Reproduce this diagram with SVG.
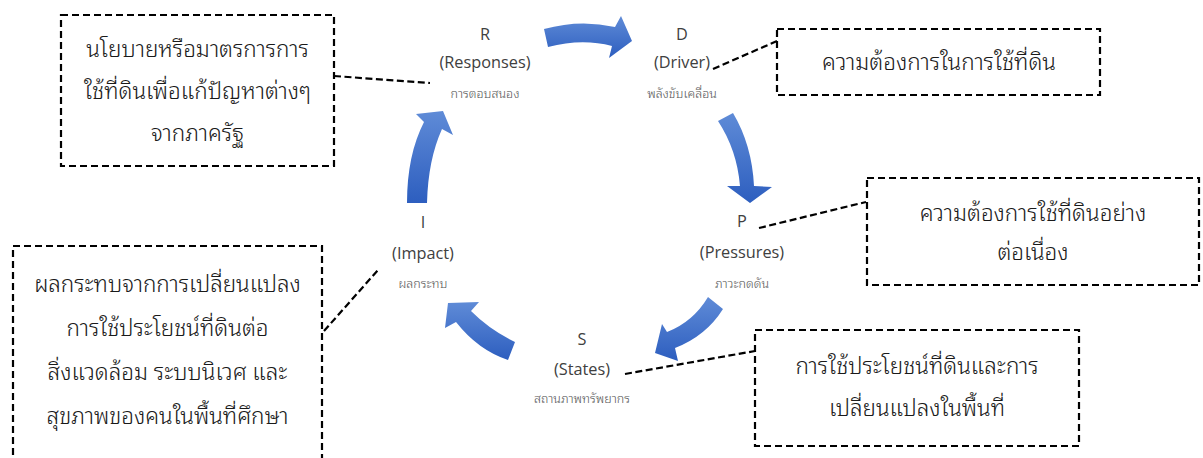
<svg xmlns="http://www.w3.org/2000/svg" width="1203" height="458" viewBox="0 0 1203 458">
<defs>
<linearGradient id="blue" x1="0" y1="0" x2="0" y2="1">
<stop offset="0" stop-color="#5f8bd7"/>
<stop offset="1" stop-color="#2d5ebf"/>
</linearGradient>
<style>
.arr{fill:url(#blue);}
.box{fill:#ffffff;stroke:#000;stroke-width:2.2;stroke-dasharray:7 4;}
.con{fill:none;stroke:#000;stroke-width:2.2;stroke-dasharray:7 3.5;}
.lbl{font-family:"Open Sans","Noto Sans","Liberation Sans",sans-serif;font-size:16.3px;fill:#404040;text-anchor:middle;}
.sub{font-family:"Noto Sans Thai Looped","Noto Sans Thai","Loma","Garuda","Noto Sans",sans-serif;font-size:12.5px;font-weight:300;fill:#555555;text-anchor:middle;}
.bt{font-family:"Noto Sans Thai Looped","Noto Serif Thai","Noto Sans Thai","Loma","Garuda","Noto Sans",sans-serif;font-size:22.5px;font-weight:300;fill:#1a1a1a;text-anchor:middle;}
</style>
</defs>
<rect width="1203" height="458" fill="#ffffff"/>

<g id="arrows">
<path class="arr" d="M544,29 Q580,19 615,27 L621,16 L632,41 L609,58 L612,46 Q582,38 548,47 Z"/>
<path class="arr" d="M718,121 L733,113 Q752,145 754,186 L772,187 L750,203 L727,186 L740,186 Q737,150 718,121 Z"/>
<path class="arr" d="M708,297 L723,309 Q706,336 675,348 L678,361 L655,353 L662,324 L667,332 Q693,322 708,297 Z"/>
<path class="arr" d="M515,342 Q490,330 471,311 L479,302 L448,303 L445,328 L456,322 Q478,350 508,360 Z"/>
<path class="arr" d="M407,203 Q407,155 424,122 L416,114 L443,111 L453,135 L442,129 Q428,160 427,203 Z"/>
</g>

<g id="connectors">
<line class="con" x1="334" y1="76" x2="430" y2="83"/>
<line class="con" x1="713" y1="69" x2="777" y2="41"/>
<line class="con" x1="759" y1="228" x2="866" y2="202"/>
<line class="con" x1="625" y1="374" x2="755" y2="351"/>
<line class="con" x1="324" y1="331" x2="378" y2="270"/>
</g>

<g id="node-R">
<text class="lbl" x="485" y="40">R</text>
<text class="lbl" x="485" y="68">(Responses)</text>
<text class="sub" x="485" y="98">การตอบสนอง</text>
</g>
<g id="node-D">
<text class="lbl" x="682" y="40">D</text>
<text class="lbl" x="682" y="68">(Driver)</text>
<text class="sub" x="682" y="98">พลังขับเคลื่อน</text>
</g>
<g id="node-P">
<text class="lbl" x="742" y="227">P</text>
<text class="lbl" x="742" y="258">(Pressures)</text>
<text class="sub" x="742" y="288">ภาวะกดดัน</text>
</g>
<g id="node-S">
<text class="lbl" x="582" y="345">S</text>
<text class="lbl" x="582" y="375">(States)</text>
<text class="sub" x="582" y="403">สถานภาพทรัพยากร</text>
</g>
<g id="node-I">
<text class="lbl" x="423" y="228">I</text>
<text class="lbl" x="423" y="259">(Impact)</text>
<text class="sub" x="423" y="288">ผลกระทบ</text>
</g>

<g id="box-responses">
<rect class="box" x="61" y="15" width="273" height="151"/>
<text class="bt" x="197.5" y="57">นโยบายหรือมาตรการการ</text>
<text class="bt" x="197.5" y="99">ใช้ที่ดินเพื่อแก้ปัญหาต่างๆ</text>
<text class="bt" x="197.5" y="141">จากภาครัฐ</text>
</g>
<g id="box-driver">
<rect class="box" x="777" y="29" width="323" height="66"/>
<text class="bt" x="939" y="70">ความต้องการในการใช้ที่ดิน</text>
</g>
<g id="box-pressures">
<rect class="box" x="867" y="178" width="332" height="107"/>
<text class="bt" x="1033" y="221">ความต้องการใช้ที่ดินอย่าง</text>
<text class="bt" x="1033" y="260">ต่อเนื่อง</text>
</g>
<g id="box-states">
<rect class="box" x="755" y="330" width="324" height="116"/>
<text class="bt" x="917" y="374">การใช้ประโยชน์ที่ดินและการ</text>
<text class="bt" x="917" y="416">เปลี่ยนแปลงในพื้นที่</text>
</g>
<g id="box-impact">
<rect class="box" x="13" y="246" width="309" height="230"/>
<text class="bt" x="167.5" y="292">ผลกระทบจากการเปลี่ยนแปลง</text>
<text class="bt" x="167.5" y="336">การใช้ประโยชน์ที่ดินต่อ</text>
<text class="bt" x="167.5" y="380">สิ่งแวดล้อม ระบบนิเวศ และ</text>
<text class="bt" x="167.5" y="424">สุขภาพของคนในพื้นที่ศึกษา</text>
</g>
</svg>
